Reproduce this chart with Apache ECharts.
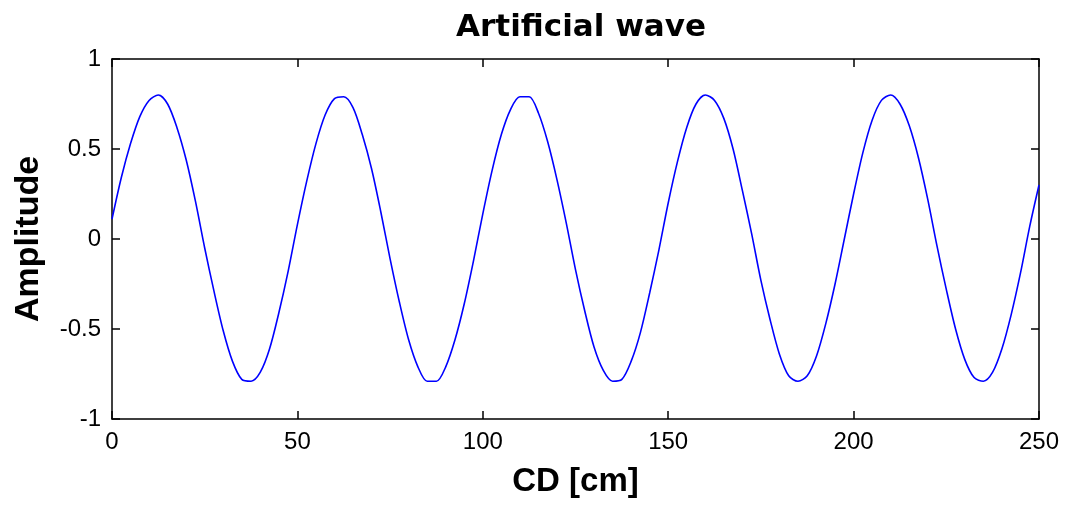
<!DOCTYPE html>
<html>
<head>
<meta charset="utf-8">
<script src="https://cdn.jsdelivr.net/npm/echarts@6/dist/echarts.min.js"></script>
<style>
  html, body { margin: 0; padding: 0; background: #fff; }
  #chart { width: 1067px; height: 506px; }
</style>
</head>
<body>
<div id="chart"></div>
<script>
// Sample positions along the cross direction (cm)
const cdPositions = [];
for (let i = 0; i <= 100; i++) cdPositions.push(i * 2.5);

// Measured amplitude at each sample position
const amplitude = [
  0.11, 0.34, 0.53, 0.68, 0.77, 0.80, 0.75, 0.62, 0.44, 0.21,
  -0.05, -0.29, -0.51, -0.68, -0.78, -0.79, -0.74, -0.61, -0.41, -0.18,
  0.08, 0.32, 0.53, 0.69, 0.78, 0.79, 0.73, 0.58, 0.39, 0.15,
  -0.11, -0.35, -0.56, -0.71, -0.79, -0.79, -0.71, -0.56, -0.36, -0.12,
  0.14, 0.38, 0.58, 0.72, 0.79, 0.79, 0.70, 0.54, 0.33, 0.09,
  -0.17, -0.40, -0.60, -0.73, -0.79, -0.78, -0.68, -0.52, -0.30, -0.06,
  0.20, 0.43, 0.62, 0.75, 0.80, 0.77, 0.67, 0.50, 0.27, 0.03,
  -0.23, -0.45, -0.64, -0.76, -0.79, -0.76, -0.65, -0.47, -0.25, 0.00,
  0.25, 0.48, 0.66, 0.77, 0.80, 0.75, 0.63, 0.45, 0.22, -0.04,
  -0.28, -0.50, -0.67, -0.77, -0.79, -0.74, -0.61, -0.42, -0.19, 0.07,
  0.30
];

const xTicks = { min: 0, max: 250, step: 50 };
const yTicks = { min: -1, max: 1, step: 0.5 };

const chart = echarts.init(document.getElementById('chart'), null, { renderer: 'canvas' });

const FONT = '"Liberation Sans", Arial, sans-serif';
const TITLE_FONT = '"DejaVu Sans", sans-serif';
const axisLine = { show: true, onZero: false, lineStyle: { color: '#000', width: 1.5 } };
const ticksIn = { show: true, inside: true, length: 8, lineStyle: { color: '#000', width: 1.5 } };

chart.setOption({
  animation: false,
  backgroundColor: '#fff',
  title: {
    text: 'Artificial wave',
    left: 576,
    top: 7,
    textAlign: 'center',
    textStyle: { fontFamily: TITLE_FONT, fontWeight: 'bold', fontSize: 31, color: '#000' }
  },
  grid: { left: 112, right: 28, top: 59, bottom: 87, containLabel: false },
  xAxis: [
    {
      type: 'value', min: xTicks.min, max: xTicks.max, interval: xTicks.step,
      position: 'bottom',
      axisLine, axisTick: ticksIn,
      axisLabel: { fontFamily: FONT, fontSize: 24, color: '#000', margin: 11 },
      splitLine: { show: false },
      name: 'CD [cm]', nameLocation: 'middle', nameGap: 46,
      nameTextStyle: { fontFamily: FONT, fontWeight: 'bold', fontSize: 33, color: '#000' }
    },
    {
      type: 'value', min: xTicks.min, max: xTicks.max, interval: xTicks.step,
      position: 'top',
      axisLine, axisTick: ticksIn, axisLabel: { show: false }, splitLine: { show: false }
    }
  ],
  yAxis: [
    {
      type: 'value', min: yTicks.min, max: yTicks.max, interval: yTicks.step,
      position: 'left',
      axisLine, axisTick: ticksIn,
      axisLabel: { fontFamily: FONT, fontSize: 24, color: '#000', margin: 11 },
      splitLine: { show: false },
      name: 'Amplitude', nameLocation: 'middle', nameGap: 66,
      nameTextStyle: { fontFamily: FONT, fontWeight: 'bold', fontSize: 34, color: '#000' }
    },
    {
      type: 'value', min: yTicks.min, max: yTicks.max, interval: yTicks.step,
      position: 'right',
      axisLine, axisTick: ticksIn, axisLabel: { show: false }, splitLine: { show: false }
    }
  ],
  series: [
    {
      type: 'line',
      data: cdPositions.map((x, i) => [x, amplitude[i]]),
      showSymbol: false,
      smooth: 0.3,
      lineStyle: { color: '#0000ff', width: 1.6 },
      xAxisIndex: 0, yAxisIndex: 0
    }
  ]
});
</script>
</body>
</html>
